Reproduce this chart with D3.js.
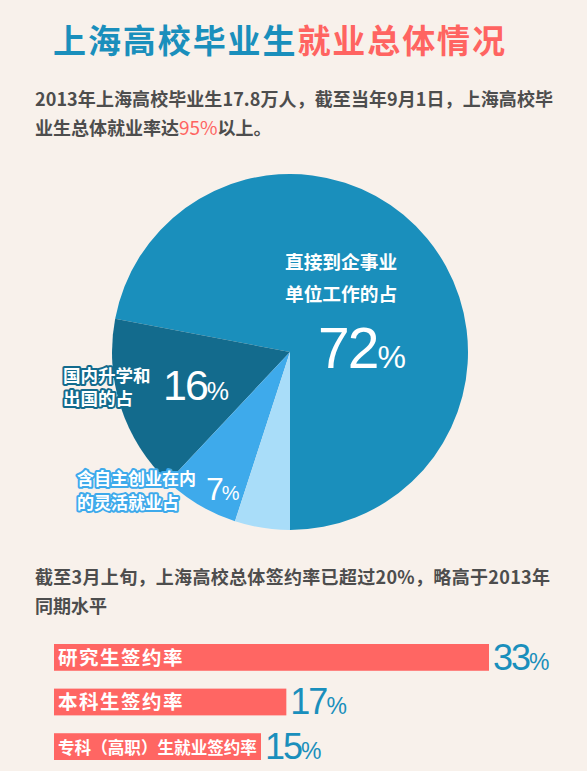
<!DOCTYPE html>
<html>
<head>
<meta charset="utf-8">
<script src="https://cdn.jsdelivr.net/npm/d3@7"></script>
<style>
html,body{margin:0;padding:0;background:#f8f1eb;}
svg{display:block;}
text{font-family:"Noto Sans CJK SC","Noto Sans",sans-serif;}
</style>
</head>
<body>
<svg id="chart" width="587" height="771"></svg>
<script>
// ---- data ----
const titleBlue = "上海高校毕业生";
const titleRed = "就业总体情况";
const pieCategories = ["直接到企事业单位工作的占", "国内升学和出国的占", "含自主创业在内的灵活就业占", "其他"];
const pieValues = [72, 16, 7, 5];
const barCategories = ["研究生签约率", "本科生签约率", "专科（高职）生就业签约率"];
const barValues = [33, 17, 15];

const W = 587, H = 771;
const svg = d3.select("#chart");
svg.append("rect").attr("width", W).attr("height", H).attr("fill", "#f8f1eb");

const gray = "#4d4d4d", red = "#ff6461", blue = "#1a8fbc";

// Title
const t = svg.append("text").attr("x", 53).attr("y", 53)
  .attr("font-size", 33).attr("font-weight", "bold")
  .attr("textLength", 452).attr("lengthAdjust", "spacing");
t.append("tspan").attr("fill", blue).text(titleBlue);
t.append("tspan").attr("fill", red).text(titleRed);

// Paragraph 1
const p1 = svg.append("g").attr("font-size", 18).attr("font-weight", "bold").attr("fill", gray);
p1.append("text").attr("x", 35).attr("y", 106).attr("textLength", 518).attr("lengthAdjust", "spacing")
  .text("2013年上海高校毕业生17.8万人，截至当年9月1日，上海高校毕");
const l2 = p1.append("text").attr("x", 35).attr("y", 135);
l2.append("tspan").text("业生总体就业率达");
l2.append("tspan").attr("fill", red).attr("font-weight", "normal").attr("font-size", 19).text("95%");
l2.append("tspan").text("以上。");

// Pie
const cx = 290, cy = 352, R = 178;
const pieColors = d3.scaleOrdinal().domain(pieCategories).range(["#1a8fbc", "#136b8d", "#3eaaeb", "#a9ddf9"]);
const pie = d3.pie().sort(null).value(d => d.v).startAngle(Math.PI).endAngle(-Math.PI);
const arcs = pie(pieCategories.map((c, i) => ({c, v: pieValues[i]})));
const arc = d3.arc().innerRadius(0).outerRadius(R);
const pg = svg.append("g").attr("transform", `translate(${cx},${cy})`);
pg.selectAll("path").data(arcs).join("path")
  .attr("d", arc).attr("fill", d => pieColors(d.data.c));

function label(lines, x, y0, dy, size, pct, px, py, numSize, pctSize, outline) {
  const g = svg.append("g").attr("fill", "#fff");
  lines.forEach((s, i) => {
    const tx = g.append("text").attr("x", x).attr("y", y0 + i * dy)
      .attr("font-size", size).attr("font-weight", "bold").text(s);
    if (outline) tx.attr("stroke", outline).attr("stroke-width", 4).attr("paint-order", "stroke").attr("stroke-linejoin", "round");
  });
  const n = g.append("text").attr("x", px).attr("y", py)
    .style("font-family", "'Liberation Sans', Arial, sans-serif");
  n.append("tspan").attr("font-size", numSize).attr("letter-spacing", -2).text(pct);
  n.append("tspan").attr("font-size", pctSize).text("%");
}
const fmt = v => String(v);
label(["直接到企事业", "单位工作的占"], 285, 269, 32, 18.7, fmt(pieValues[0]), 318, 368, 57, 32, null);
label(["国内升学和", "出国的占"], 63, 382, 23, 17.5, fmt(pieValues[1]), 163, 400, 43, 25, "#136b8d");
label(["含自主创业在内", "的灵活就业占"], 77, 485, 23.5, 17, fmt(pieValues[2]), 206, 500, 32, 20, "#3eaaeb");

// Subtitle 2
const p2 = svg.append("g").attr("font-size", 18).attr("font-weight", "bold").attr("fill", gray);
p2.append("text").attr("x", 35).attr("y", 584).attr("textLength", 515).attr("lengthAdjust", "spacing")
  .text("截至3月上旬，上海高校总体签约率已超过20%，略高于2013年");
p2.append("text").attr("x", 35).attr("y", 613).text("同期水平");

// Bars
const barX0 = 54;
const x = d3.scaleLinear().domain([0, 33]).range([barX0 + 17, 489]);
const y = d3.scaleBand().domain(barCategories).range([644, 760]).paddingInner(0.4).paddingOuter(0);
const bg = svg.append("g");
barCategories.forEach((c, i) => {
  const v = barValues[i];
  const yy = y(c), h = y.bandwidth();
  bg.append("rect").attr("x", barX0).attr("y", yy).attr("width", x(v) - barX0).attr("height", h).attr("fill", "#ff6663");
  const bw = x(v) - barX0;
  const fs = 19.5;
  const lt = bg.append("text").attr("x", barX0 + 4).attr("y", yy + h - 6)
    .attr("font-size", fs).attr("font-weight", "bold").attr("fill", "#fff").text(c);
  let len = lt.node().getComputedTextLength();
  if (len > bw - 8) {
    lt.attr("font-size", fs * (bw - 8) / len);
  } else {
    lt.attr("letter-spacing", 1.5);
  }
  const nt = bg.append("text").attr("x", x(v) + 4).attr("y", yy + h - 1).attr("fill", blue)
    .style("font-family", "'Liberation Sans', Arial, sans-serif");
  nt.append("tspan").attr("font-size", 36).attr("letter-spacing", -2).text(v);
  nt.append("tspan").attr("font-size", 23).text("%");
});
</script>
</body>
</html>
